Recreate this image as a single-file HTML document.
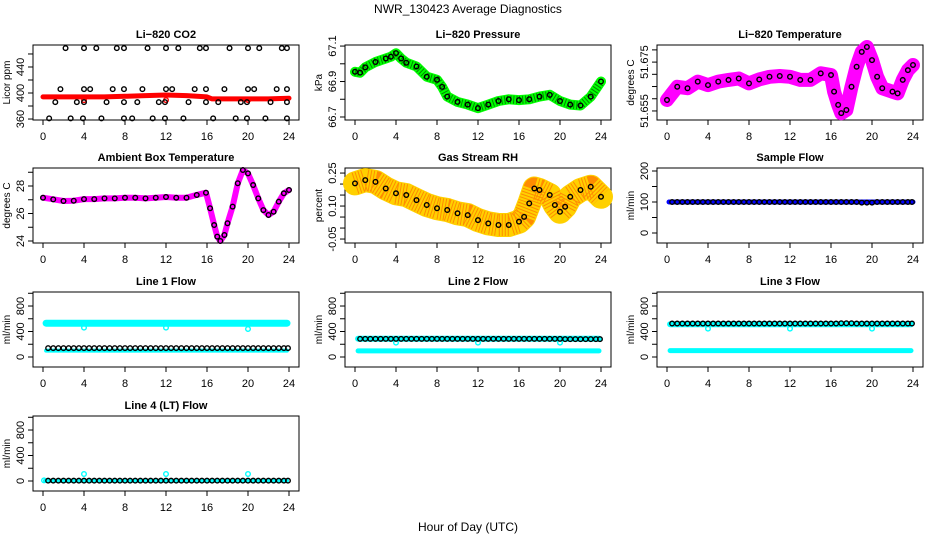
<!DOCTYPE html>
<html><head><meta charset="utf-8"><style>
html,body{margin:0;padding:0;background:#fff;}
svg{display:block;font-family:"Liberation Sans",Arial,sans-serif;}
</style></head><body>
<svg id="chart" width="936" height="540" viewBox="0 0 936 540" xmlns="http://www.w3.org/2000/svg">
<text x="468" y="13" text-anchor="middle" font-size="12">NWR_130423  Average Diagnostics</text>
<text x="468" y="531" text-anchor="middle" font-size="12">Hour of Day (UTC)</text>
</svg>
<script>
// ---- shared ----
const xTicks = [0,4,8,12,16,20,24];
const bHours = [0.5,1,1.5,2,2.5,3,3.5,4,4.5,5,5.5,6,6.5,7,7.5,8,8.5,9,9.5,10,10.5,11,11.5,12,12.5,13,13.5,14,14.5,15,15.5,16,16.5,17,17.5,18,18.5,19,19.5,20,20.5,21,21.5,22,22.5,23,23.5,23.9];

// ---- CO2 ----
const co2RedHours = [0,2,4,6,8,10,12,14,15,16,16.5,18,20,22,24];
const co2RedValues = [394,394,394,394,395,396,397,396,395,394,391,391,391,391,392];
const co2OutHours = [4,12,20];
const co2OutValues = [389,389,389];
const co2TopHours = [2.2,4.0,5.2,7.2,7.9,10.2,12.0,13.2,15.3,15.9,18.2,20.0,21.1,23.3,23.8];
const co2MidHours = [1.7,4.0,4.6,6.8,7.9,9.7,12.0,12.6,14.8,15.9,17.7,20.0,20.6,22.8,23.8];
const co2LowHours = [1.2,3.3,4.0,6.2,7.9,9.2,11.3,11.9,14.2,15.9,17.1,19.3,19.9,22.2,23.8];
const co2BotHours = [0.6,2.7,3.9,5.7,7.9,8.7,10.7,11.9,13.7,16.6,18.8,19.9,21.7,23.8];
const co2Levels = [469,406,386,361];

// ---- Pressure ----
const presHours = [0,0.5,1,2,3,3.5,4,4.5,5,6,7,8,8.5,9,10,11,12,13,14,15,16,17,18,19,20,21,22,23,24];
const presValues = [66.955,66.95,66.98,67.01,67.03,67.04,67.06,67.03,67.006,66.985,66.927,66.91,66.87,66.815,66.785,66.77,66.75,66.77,66.79,66.8,66.795,66.8,66.815,66.825,66.79,66.77,66.765,66.815,66.9];

// ---- Li-820 Temperature ----
const ltHours = [0,1,2,3,4,5,6,7,8,9,10,11,12,13,14,15,16,16.3,16.7,17,17.5,18,18.5,19,19.5,20,20.5,21,22,22.5,23,23.5,24];
const ltValues = [51.6595,51.6649,51.6643,51.6670,51.6656,51.6670,51.6677,51.6683,51.6663,51.6679,51.6690,51.6693,51.6690,51.6677,51.6677,51.6704,51.6697,51.6629,51.6575,51.6541,51.6554,51.6649,51.6731,51.6792,51.6812,51.6758,51.6690,51.6643,51.6629,51.6622,51.6677,51.6717,51.6738];

// ---- Ambient ----
const ambHours = [0,1,2,3,4,5,6,7,8,9,10,11,12,13,14,15,15.9,16.3,16.7,17,17.3,17.7,18,18.5,19,19.5,20,20.5,21,21.5,22,22.5,23,23.5,24];
const ambValues = [27.15,27.03,26.91,26.93,27.05,27.05,27.1,27.1,27.15,27.15,27.1,27.15,27.2,27.15,27.15,27.35,27.51,26.38,25.16,24.32,24.0,24.44,25.29,26.5,28.2,29.16,28.92,28.07,27.1,26.25,25.89,26.13,26.86,27.47,27.71];

// ---- Gas RH ----
const rhHours = [0,1,2,3,4,5,6,7,8,9,10,11,12,13,14,15,16,16.5,17,17.5,18,19,19.5,20,20.5,21,22,23,24];
const rhValues = [0.203,0.218,0.21,0.18,0.158,0.15,0.127,0.105,0.09,0.082,0.067,0.059,0.036,0.021,0.014,0.014,0.029,0.051,0.112,0.18,0.173,0.15,0.105,0.074,0.097,0.142,0.173,0.188,0.142];

// ---- flows ----
const sampleHours = [0.2,24];
const sampleValues = [100,100];
const sampleBlack = [100,100,100,100,100,100,100,100,100,100,100,100,100,100,100,100,100,100,100,100,100,100,100,100,100,100,100,100,100,100,100,100,100,100,100,100,100,98,98,98,100,100,100,100,100,100,100,100];

const l1HighHours = [0.3,23.8];
const l1HighValues = [530,530];
const l1LowHours = [0.3,23.8];
const l1LowValues = [100,100];
const l1DipHours = [4,12,20];
const l1DipValues = [460,460,440];
const l1Black = [140,140,140,140,140,140,140,140,140,140,140,140,140,140,140,140,140,140,140,140,140,140,140,140,140,140,140,140,140,140,140,140,140,140,140,140,140,140,140,140,140,140,140,140,140,140,140,140];

const l2HighHours = [0.3,23.8];
const l2HighValues = [285,285];
const l2LowHours = [0.3,23.8];
const l2LowValues = [95,95];
const l2DipHours = [4,12,20];
const l2DipValues = [225,225,225];
const l2Black = [285,285,285,285,285,285,285,285,285,285,285,285,285,285,285,285,285,285,285,285,285,285,285,285,285,285,285,285,285,285,285,285,285,285,285,285,285,285,285,285,280,280,280,280,280,280,280,280];

const l3HighHours = [0.3,23.8];
const l3HighValues = [515,515];
const l3LowHours = [0.3,23.8];
const l3LowValues = [100,100];
const l3DipHours = [4,12,20];
const l3DipValues = [445,445,445];
const l3Black = [525,525,525,525,525,525,525,525,525,525,525,525,525,525,525,525,525,525,525,525,525,525,525,525,525,525,525,525,525,525,525,525,525,530,530,530,525,525,525,525,525,525,525,525,525,525,525,525];

const l4LowHours = [0.2,23.8];
const l4LowValues = [5,5];
const l4SpikeHours = [0.1,4,12,20];
const l4SpikeValues = [10,110,110,110];
const l4Black = [5,5,5,5,5,5,5,5,5,5,5,5,5,5,5,5,5,5,5,5,5,5,5,5,5,5,5,5,5,5,5,5,5,5,5,5,5,5,5,5,5,5,5,5,5,5,5,5];

// ---- rendering ----
const NS = "http://www.w3.org/2000/svg";
const svg = document.getElementById("chart");
const rowTops = [45,168,292,416];
const BOXH = 75, BOXW = 266;

function mk(tag, attrs, parent){
  const e = document.createElementNS(NS, tag);
  for (const k in attrs) e.setAttribute(k, attrs[k]);
  (parent||svg).appendChild(e);
  return e;
}

function makePanel(col,row,lo,hi,title,ylab,yticks,ylabels,key){
  const g = mk("g",{});
  
  
  const left = col*312+33, top = rowTops[row];
  const xs = h => col*312 + 43 + h*10.25;
  const ys = v => top + (hi - v)/(hi - lo)*BOXH;
  const t = mk("text",{x:left+BOXW/2, y:top-7, "text-anchor":"middle","font-size":"11","font-weight":"bold"},g);
  t.textContent = title;
  
  
  const yl = mk("text",{transform:`translate(${left-23},${top+BOXH/2}) rotate(-90)`,"text-anchor":"middle","font-size":"10"},g);
  yl.textContent = ylab;
  
  
  const ax = mk("g",{stroke:"#000","stroke-width":"1"},g);
  
  
  const box = mk("rect",{x:left,y:top,width:BOXW,height:BOXH,fill:"none"},ax);
  
  
  xTicks.forEach(h=>{
    const x = xs(h);
    mk("line",{x1:x,x2:x,y1:top+BOXH,y2:top+BOXH+5},ax);
    const tl = mk("text",{x:x,y:top+BOXH+20,"text-anchor":"middle","font-size":"11",stroke:"none"},g);
    tl.textContent = String(h);
    
    
  });
  yticks.forEach(v=>{
    const y = ys(v);
    mk("line",{x1:left-5,x2:left,y1:y,y2:y},ax);
  });
  ylabels.forEach(lbl=>{
    const y = ys(parseFloat(lbl));
    const tl = mk("text",{transform:`translate(${left-9},${y}) rotate(-90)`,"text-anchor":"middle","font-size":"11"},g);
    tl.textContent = lbl;
    
    
  });
  const plot = mk("g",{},g);
  
  
  return {xs,ys,plot,key};
}

function band(p,hours,values,color,width,name,dash){
  const pts = hours.map((h,i)=>p.xs(h).toFixed(1)+","+p.ys(values[i]).toFixed(1)).join(" ");
  const pl = mk("polyline",{points:pts,fill:"none",stroke:color,"stroke-width":width,"stroke-linejoin":"round","stroke-linecap":"round"},p.plot);
  
  
  if (dash){
    const d = mk("polyline",{points:pts,fill:"none",stroke:dash,"stroke-width":width-2,"stroke-dasharray":"1 2","stroke-linejoin":"round"},p.plot);
    
    
  }
}

function circles(p,hours,values,color,name,r){
  hours.forEach((h,i)=>{
    const c = mk("circle",{cx:p.xs(h),cy:p.ys(values[i]),r:r||2.3,fill:"none",stroke:color,"stroke-width":"1.4"},p.plot);
    
    
  });
}

// CO2
let p = makePanel(0,0,358.5,473.8,"Li\u2212820 CO2","Licor ppm",[360,380,400,420,440,460],["360","400","440"],"co2");
band(p,co2RedHours,co2RedValues,"#ff0000",5,"co2-red-series");
circles(p,co2OutHours,co2OutValues,"#ff0000","co2-red-outlier");
circles(p,co2TopHours,co2TopHours.map(()=>co2Levels[0]),"#000","co2-point");
circles(p,co2MidHours,co2MidHours.map(()=>co2Levels[1]),"#000","co2-point");
circles(p,co2LowHours,co2LowHours.map(()=>co2Levels[2]),"#000","co2-point");
circles(p,co2BotHours,co2BotHours.map(()=>co2Levels[3]),"#000","co2-point");

// Pressure
p = makePanel(1,0,66.683,67.106,"Li\u2212820 Pressure","kPa",[66.7,66.8,66.9,67.0,67.1],["66.7","66.9","67.1"],"pressure");
band(p,presHours,presValues,"#00ff00",10,"pressure-green-series","#008800");
circles(p,presHours,presValues,"#000","pressure-point");

// Li temp
p = makePanel(2,0,51.6513,51.6820,"Li\u2212820 Temperature","degrees C",[51.655,51.66,51.665,51.67,51.675,51.68],["51.655","51.675"],"li-temp");
band(p,ltHours,ltValues,"#ff00ff",14,"li-temp-magenta-series");
circles(p,ltHours,ltValues,"#000","li-temp-point");

// Ambient
p = makePanel(0,1,23.855,29.31,"Ambient Box Temperature","degrees C",[24,25,26,27,28,29],["24","26","28"],"ambient");
band(p,ambHours,ambValues,"#ff00ff",6,"ambient-magenta-series");
circles(p,ambHours,ambValues,"#000","ambient-point");

// RH
p = makePanel(1,1,-0.068,0.273,"Gas Stream RH","percent",[-0.05,0,0.05,0.1,0.15,0.2,0.25],["-0.05","0.10","0.25"],"rh");
band(p,rhHours,rhValues,"#ffd000",24,"rh-yellow-series","#ff8c00");
circles(p,rhHours,rhValues,"#000","rh-point");

// Sample flow
p = makePanel(2,1,-32.3,209.7,"Sample Flow","ml/min",[0,50,100,150,200],["0","100","200"],"sample-flow");
band(p,sampleHours,sampleValues,"#0000ff",5,"sample-flow-blue-series");
circles(p,bHours,sampleBlack,"#000","sample-flow-point");

const flowTicks = [0,200,400,600,800,1000];
const flowLabels = ["0","400","800"];
// Line 1
p = makePanel(0,2,-157,1020,"Line 1 Flow","ml/min",flowTicks,flowLabels,"line1");
band(p,l1HighHours,l1HighValues,"#00ffff",7,"line1-cyan-high");
band(p,l1LowHours,l1LowValues,"#00ffff",4,"line1-cyan-low");
circles(p,l1DipHours,l1DipValues,"#00ffff","line1-cyan-dip");
circles(p,bHours,l1Black,"#000","line1-point");
// Line 2
p = makePanel(1,2,-157,1020,"Line 2 Flow","ml/min",flowTicks,flowLabels,"line2");
band(p,l2HighHours,l2HighValues,"#00ffff",6,"line2-cyan-high");
band(p,l2LowHours,l2LowValues,"#00ffff",5,"line2-cyan-low");
circles(p,l2DipHours,l2DipValues,"#00ffff","line2-cyan-dip");
circles(p,bHours,l2Black,"#000","line2-point");
// Line 3
p = makePanel(2,2,-157,1020,"Line 3 Flow","ml/min",flowTicks,flowLabels,"line3");
band(p,l3HighHours,l3HighValues,"#00ffff",6,"line3-cyan-high");
band(p,l3LowHours,l3LowValues,"#00ffff",5,"line3-cyan-low");
circles(p,l3DipHours,l3DipValues,"#00ffff","line3-cyan-dip");
circles(p,bHours,l3Black,"#000","line3-point");
// Line 4
p = makePanel(0,3,-157,1020,"Line 4 (LT) Flow","ml/min",flowTicks,flowLabels,"line4");
band(p,l4LowHours,l4LowValues,"#00ffff",4,"line4-cyan-series");
circles(p,l4SpikeHours,l4SpikeValues,"#00ffff","line4-cyan-spike");
circles(p,bHours,l4Black,"#000","line4-point");
</script>
</body></html>
